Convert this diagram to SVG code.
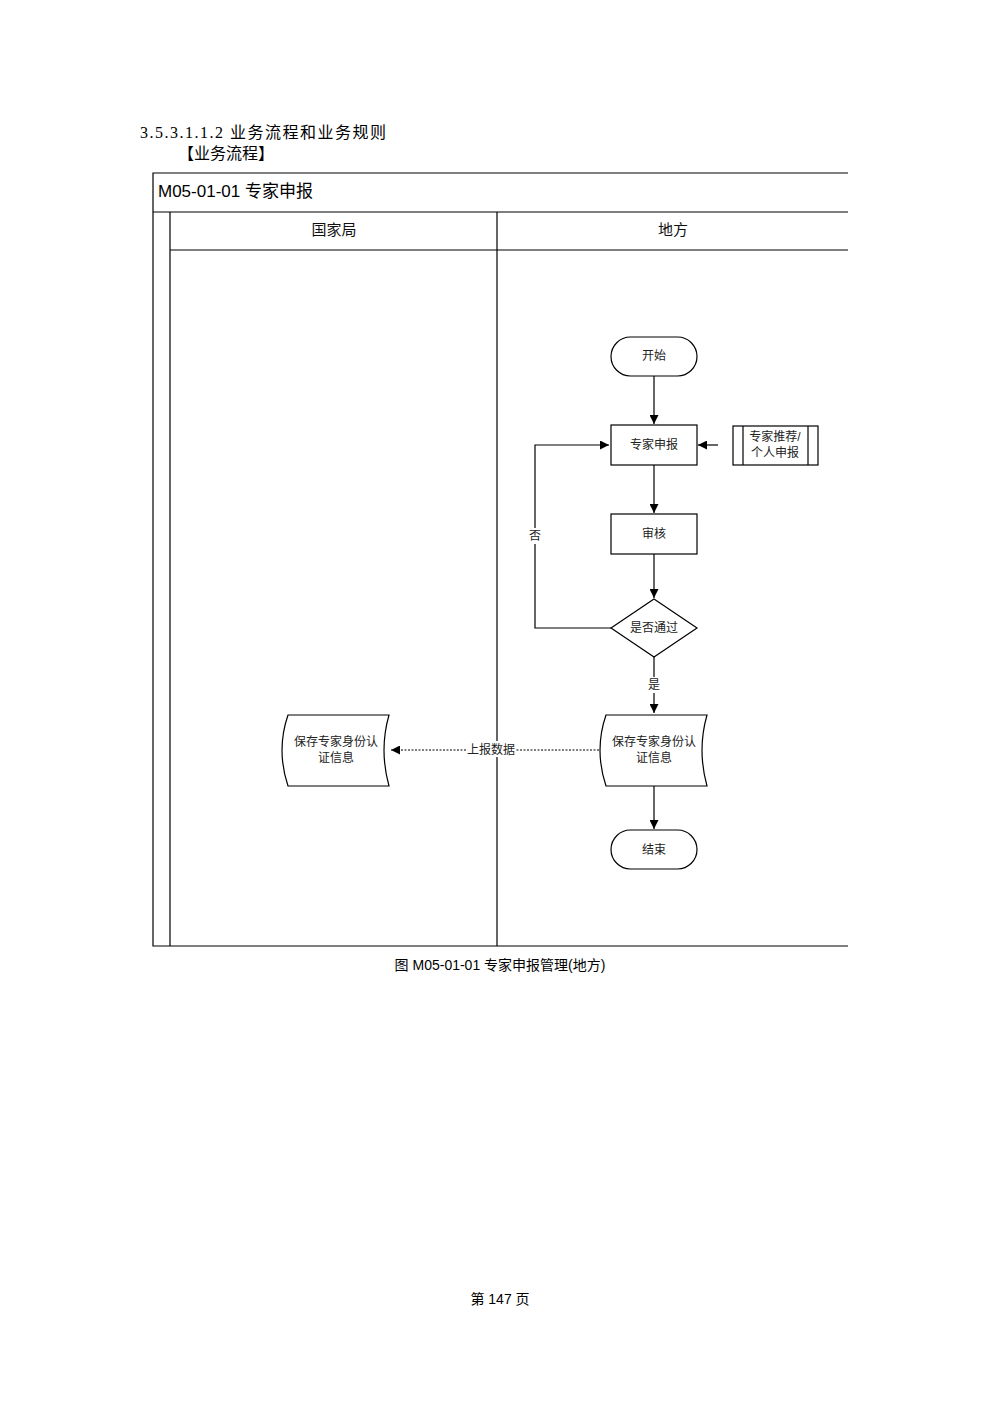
<svg xmlns="http://www.w3.org/2000/svg" width="1000" height="1415" viewBox="0 0 1000 1415">
<defs>
<style>
.t{font-family:"Liberation Serif","Noto Sans CJK SC",serif;fill:#000}
.s{font-family:"Liberation Sans","Noto Sans CJK SC",sans-serif;fill:#222;font-size:12px;text-anchor:middle}
.h{font-size:15px;fill:#111}
.n{fill:#fff;stroke:#000;stroke-width:1.2}
.l{fill:none;stroke:#000;stroke-width:1.2}
</style>
<marker id="a" viewBox="0 0 10 10" refX="10" refY="5" markerWidth="9" markerHeight="9" orient="auto" markerUnits="userSpaceOnUse"><path d="M0,0L10,5L0,10z" fill="#000"/></marker>
</defs>
<rect width="1000" height="1415" fill="#fff"/>
<text class="t" x="140" y="138" font-size="16" letter-spacing="1.5">3.5.3.1.1.2 业务流程和业务规则</text>
<text class="t" x="178" y="159" font-size="16">【业务流程】</text>
<g id="frame" class="l">
<path d="M848,173H153V946H848"/>
<path d="M153,212H848M170,212V946M170,250H848M497,212V946"/>
</g>
<text class="s" x="158" y="197" style="text-anchor:start;font-size:17px;fill:#000">M05-01-01 专家申报</text>
<text class="s h" x="334" y="235">国家局</text>
<text class="s h" x="673" y="235">地方</text>
<g id="connectors" class="l">
<path d="M654,376V424" marker-end="url(#a)"/>
<path d="M718,445H698" marker-end="url(#a)"/>
<path d="M654,465V513" marker-end="url(#a)"/>
<path d="M654,554V598" marker-end="url(#a)"/>
<path d="M611,628H535V445H609" marker-end="url(#a)"/>
<path d="M654,657V713" marker-end="url(#a)"/>
<path d="M654,786V829" marker-end="url(#a)"/>
<path d="M599,750H391" stroke-dasharray="2,1.5" stroke-width="1" marker-end="url(#a)"/>
</g>
<rect x="527" y="528" width="16" height="16" fill="#fff"/><text class="s" x="535" y="540">否</text>
<rect x="645" y="677" width="18" height="16" fill="#fff"/><text class="s" x="654" y="689">是</text>
<rect x="466" y="741" width="50" height="16" fill="#fff"/><text class="s" x="491" y="754">上报数据</text>
<g id="start"><rect class="n" x="611" y="337" width="86" height="39" rx="19.5"/><text class="s" x="654" y="360">开始</text></g>
<g id="apply"><rect class="n" x="611" y="425" width="86" height="40"/><text class="s" x="654" y="449">专家申报</text></g>
<g id="sub"><rect class="n" x="733" y="426" width="85" height="39"/><path class="l" d="M743,426V465M808,426V465"/><text class="s" x="775" y="441">专家推荐/</text><text class="s" x="775" y="457">个人申报</text></g>
<g id="review"><rect class="n" x="611" y="514" width="86" height="40"/><text class="s" x="654" y="538">审核</text></g>
<g id="decide"><path class="n" d="M654,599L697,628L654,657L611,628Z"/><text class="s" x="654" y="632">是否通过</text></g>
<g id="save2"><path class="n" d="M606,715H707Q697,750 707,786H606Q594,750 606,715Z"/><text class="s" x="654" y="746">保存专家身份认</text><text class="s" x="654" y="762">证信息</text></g>
<g id="save1"><path class="n" d="M288,715H389Q379,750 389,786H288Q276,750 288,715Z"/><text class="s" x="336" y="746">保存专家身份认</text><text class="s" x="336" y="762">证信息</text></g>
<g id="end"><rect class="n" x="611" y="830" width="86" height="39" rx="19.5"/><text class="s" x="654" y="854">结束</text></g>
<text class="s" x="500" y="970" style="font-size:14px;fill:#000">图 M05-01-01 专家申报管理(地方)</text>
<text class="s" x="500" y="1304" style="font-size:14px;fill:#000">第 147 页</text>
</svg>
